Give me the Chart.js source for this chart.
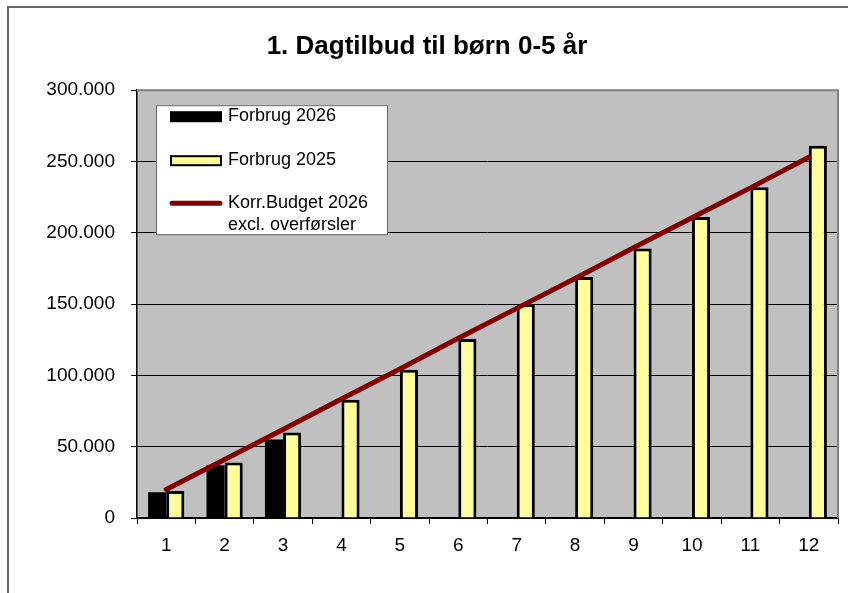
<!DOCTYPE html>
<html>
<head>
<meta charset="utf-8">
<script src="https://cdn.jsdelivr.net/npm/chart.js@4.4.1/dist/chart.umd.min.js"></script>
<style>
  html, body { margin: 0; padding: 0; background: #fff; overflow: hidden; }
  #frame { position: absolute; left: 7px; top: 6px; width: 900px; height: 700px;
           border-left: 2px solid #666; border-top: 2px solid #666; }
  #wrap { position: absolute; left: 0; top: 0; width: 848px; height: 593px; }
</style>
</head>
<body>
<div id="frame"></div>
<div id="wrap"><canvas id="chart" width="848" height="593"></canvas></div>
<script>
const categories = ['1', '2', '3', '4', '5', '6', '7', '8', '9', '10', '11', '12'];
const forbrug2026 = [18000, 37000, 55000, null, null, null, null, null, null, null, null, null];
const forbrug2025 = [19000, 39000, 60000, 83000, 104000, 125500, 150000, 169000, 189000, 211000, 232000, 261000];
const budget2026 = [20000, 41000, 62000, 83500, 104500, 126000, 147000, 168000, 189500, 210500, 231500, 253000];
const seriesLabels = ['Forbrug 2026', 'Forbrug 2025', ['Korr.Budget 2026', 'excl. overførsler']];
const chartTitle = '1. Dagtilbud til børn 0-5 år';

const FONT = "'Liberation Sans', Arial, sans-serif";

// grey plot area + top/right frame like the Excel chart
const plotArea = {
  id: 'plotArea',
  beforeDraw(chart) {
    const { ctx, chartArea: a } = chart;
    ctx.save();
    ctx.fillStyle = '#C0C0C0';
    ctx.fillRect(a.left, a.top, a.right - a.left, a.bottom - a.top);
    ctx.restore();
  },
  afterDatasetsDraw(chart) {
    const { ctx, chartArea: a } = chart;
    ctx.save();
    ctx.strokeStyle = '#808080';
    ctx.lineWidth = 2;
    ctx.beginPath();
    ctx.moveTo(a.left, a.top);
    ctx.lineTo(a.right, a.top);
    ctx.lineTo(a.right, a.bottom);
    ctx.stroke();
    ctx.restore();
  }
};

// boxed legend inside the plot, with a two line entry
const boxLegend = {
  id: 'boxLegend',
  afterDraw(chart) {
    const { ctx, chartArea: a } = chart;
    const x = a.left + 19, y = a.top + 15, w = 231, h = 129;
    const rows = [11, 55, 98];
    ctx.save();
    ctx.fillStyle = '#fff';
    ctx.fillRect(x, y, w, h);
    ctx.strokeStyle = '#666';
    ctx.lineWidth = 1;
    ctx.strokeRect(x + 0.5, y + 0.5, w, h);

    chart.data.datasets.forEach((ds, i) => {
      const cy = y + rows[i];
      const sx = x + 14, sw = 52;
      if (ds.type === 'line') {
        ctx.strokeStyle = ds.borderColor;
        ctx.lineWidth = 5;
        ctx.lineCap = 'round';
        ctx.beginPath();
        ctx.moveTo(sx + 2, cy);
        ctx.lineTo(sx + sw - 2, cy);
        ctx.stroke();
      } else {
        ctx.fillStyle = '#000';
        ctx.fillRect(sx, cy - 5, sw, 11);
        ctx.fillStyle = ds.backgroundColor;
        ctx.fillRect(sx + 2, cy - 3, sw - 4, 7);
      }
      ctx.fillStyle = '#000';
      ctx.font = '18px ' + FONT;
      ctx.textBaseline = 'middle';
      ctx.textAlign = 'left';
      const lines = Array.isArray(ds.label) ? ds.label : [ds.label];
      lines.forEach((t, k) => ctx.fillText(t, x + 72, cy + k * 22));
    });
    ctx.restore();
  }
};

function fmt(v) {
  return String(v).replace(/\B(?=(\d{3})+(?!\d))/g, '.');
}

new Chart(document.getElementById('chart'), {
  type: 'bar',
  data: {
    labels: categories,
    datasets: [
      {
        label: seriesLabels[0],
        data: forbrug2026,
        backgroundColor: '#000000',
        borderWidth: 0,
        order: 2
      },
      {
        label: seriesLabels[1],
        data: forbrug2025,
        backgroundColor: '#FFFF99',
        borderColor: '#000000',
        borderWidth: 3,
        order: 2
      },
      {
        type: 'line',
        label: seriesLabels[2],
        data: budget2026,
        borderColor: '#800000',
        borderWidth: 5,
        borderCapStyle: 'round',
        pointRadius: 0,
        tension: 0,
        order: 0
      }
    ]
  },
  options: {
    responsive: false,
    animation: false,
    categoryPercentage: 0.62,
    barPercentage: 1.0,
    layout: { padding: { left: 16, right: 10, top: 0, bottom: 0 } },
    plugins: {
      legend: { display: false },
      tooltip: { enabled: false },
      title: {
        display: true,
        text: chartTitle,
        color: '#000',
        font: { family: FONT, size: 26, weight: 'bold', lineHeight: 1.2 },
        padding: { top: 31, bottom: 28 }
      }
    },
    scales: {
      x: {
        afterFit(s) { s.height = 75; },
        grid: {
          offset: true,
          drawOnChartArea: false,
          color: '#000',
          tickLength: 6
        },
        border: { color: '#000', width: 1.5 },
        ticks: { color: '#000', font: { family: FONT, size: 19 }, padding: 10 }
      },
      y: {
        min: 0,
        max: 300000,
        afterFit(s) { s.width = 121; },
        grid: { color: '#000', lineWidth: 1, tickLength: 6 },
        border: { color: '#000', width: 1.5 },
        ticks: {
          stepSize: 50000,
          color: '#000',
          font: { family: FONT, size: 19 },
          padding: 16,
          callback: (v) => fmt(v)
        }
      }
    }
  },
  plugins: [plotArea, boxLegend]
});
</script>
</body>
</html>
